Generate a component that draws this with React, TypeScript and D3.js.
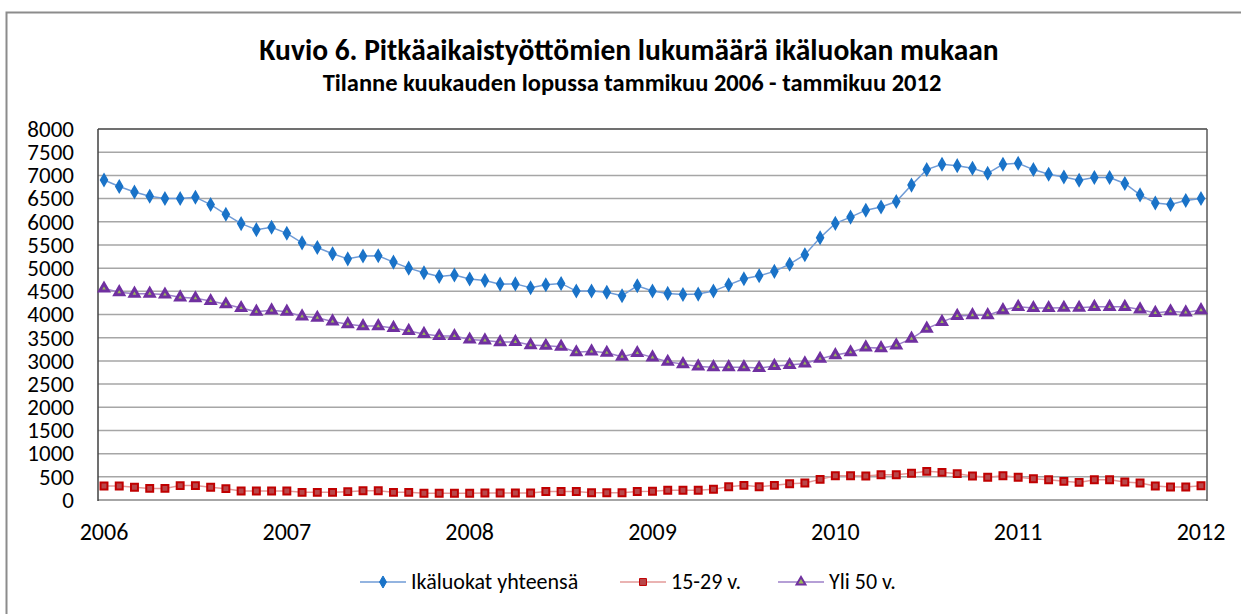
import React, { useEffect, useRef } from "react";
import * as d3 from "d3";

// monthly values, Jan 2006 .. Jan 2012 (73 months)
const totalValues = [
  6900, 6760, 6640, 6550, 6500, 6500, 6530, 6370, 6160, 5960, 5830, 5880,
  5750, 5545, 5445, 5310, 5200, 5260, 5265, 5130, 5000, 4900, 4820, 4850,
  4765, 4735, 4655, 4660, 4575, 4640, 4670, 4505, 4505, 4480, 4405, 4620,
  4505, 4455, 4430, 4440, 4505, 4640, 4770, 4835, 4930, 5085, 5290, 5655,
  5965, 6100, 6250, 6320, 6435, 6790, 7125, 7240, 7210, 7155, 7045, 7240,
  7260, 7125, 7025, 6965, 6895, 6955, 6955, 6825, 6580, 6405, 6370, 6460,
  6500,
];
const youngValues = [
  300, 300, 275, 250, 250, 310, 310, 275, 245, 195, 195, 195,
  195, 165, 165, 165, 180, 200, 200, 165, 165, 145, 145, 145,
  145, 150, 150, 150, 150, 185, 185, 185, 158, 158, 158, 185,
  187, 209, 209, 209, 230, 287, 316, 287, 316, 352, 366, 445,
  524, 524, 517, 546, 546, 575, 618, 596, 568, 517, 489, 524,
  489, 460, 438, 402, 380, 438, 438, 388, 366, 302, 280, 280,
  309,
];
const olderValues = [
  4560, 4480, 4450, 4450, 4430, 4370, 4350, 4290, 4220, 4140, 4060, 4090,
  4060, 3960, 3930, 3850, 3790, 3750, 3750, 3710, 3645, 3580, 3535, 3535,
  3460, 3440, 3405, 3410, 3340, 3325, 3305, 3185, 3205, 3175, 3090, 3170,
  3075, 2980, 2930, 2880, 2865, 2865, 2865, 2845, 2890, 2910, 2945, 3045,
  3125, 3185, 3290, 3275, 3335, 3480, 3695, 3840, 3970, 3985, 3985, 4095,
  4165, 4140, 4140, 4145, 4145, 4165, 4165, 4165, 4110, 4035, 4070, 4045,
  4095,
];
const yearLabels = ["2006", "2007", "2008", "2009", "2010", "2011", "2012"];
const yTicks = [0, 500, 1000, 1500, 2000, 2500, 3000, 3500, 4000, 4500, 5000, 5500, 6000, 6500, 7000, 7500, 8000];
const seriesNames = ["Ikäluokat yhteensä", "15-29 v.", "Yli 50 v."];

const FONT = "Calibri, Carlito, Lato, sans-serif";

export default function App() {
  const ref = useRef<SVGSVGElement>(null);

  useEffect(() => {
    const width = 1241,
      height = 614;
    const svg = d3.select(ref.current);
    svg.selectAll("*").remove();

    // outer chart border
    svg.append("rect")
      .attr("x", 6.5).attr("y", 12.5)
      .attr("width", width).attr("height", height)
      .attr("fill", "white")
      .attr("stroke", "#8c8c8c").attr("stroke-width", 2);

    // titles
    svg.append("text")
      .attr("x", 629).attr("y", 60)
      .attr("text-anchor", "middle")
      .style("font-family", FONT).style("font-weight", "bold").style("font-size", "29.5px")
      .text("Kuvio 6. Pitkäaikaistyöttömien lukumäärä ikäluokan mukaan");
    svg.append("text")
      .attr("x", 632).attr("y", 91)
      .attr("text-anchor", "middle")
      .style("font-family", FONT).style("font-weight", "bold").style("font-size", "24.5px")
      .text("Tilanne kuukauden lopussa tammikuu 2006 - tammikuu 2012");

    const n = totalValues.length;
    const x = d3.scaleLinear().domain([0, n - 1]).range([104, 1201]);
    const y = d3.scaleLinear().domain([0, 8000]).range([500, 129]);

    // gridlines
    svg.append("g")
      .selectAll("line")
      .data(yTicks.slice(1, -1))
      .join("line")
      .attr("x1", 98).attr("x2", 1207)
      .attr("y1", (d) => y(d)).attr("y2", (d) => y(d))
      .attr("stroke", "#a6a6a6").attr("stroke-width", 1.5);

    // plot frame
    svg.append("line").attr("x1", 98).attr("x2", 1207).attr("y1", y(8000)).attr("y2", y(8000))
      .attr("stroke", "#404040").attr("stroke-width", 1.5);
    svg.append("line").attr("x1", 98).attr("x2", 1207).attr("y1", y(0)).attr("y2", y(0))
      .attr("stroke", "#a6a6a6").attr("stroke-width", 2);
    svg.append("line").attr("x1", 98).attr("x2", 98).attr("y1", y(8000)).attr("y2", y(0) + 1)
      .attr("stroke", "#404040").attr("stroke-width", 1.5);
    svg.append("line").attr("x1", 1207).attr("x2", 1207).attr("y1", y(8000)).attr("y2", y(0) + 1)
      .attr("stroke", "#5a5a5a").attr("stroke-width", 1.5);

    // y labels
    svg.append("g")
      .selectAll("text")
      .data(yTicks)
      .join("text")
      .attr("x", 74).attr("y", (d) => y(d))
      .attr("dy", "0.34em")
      .attr("text-anchor", "end")
      .style("font-family", FONT).style("font-size", "23px").attr("fill", "#000")
      .text((d) => d);

    // x labels
    svg.append("g")
      .selectAll("text")
      .data(yearLabels)
      .join("text")
      .attr("x", (d, i) => x(i * 12)).attr("y", 540)
      .attr("text-anchor", "middle")
      .style("font-family", FONT).style("font-size", "24px")
      .text((d) => d);

    const series = [
      { name: seriesNames[0], values: totalValues, line: "#6f9bd6", fill: "#1a73c8", stroke: "#1a73c8", shape: d3.symbolDiamond, size: 42, sw: 1.5 },
      { name: seriesNames[1], values: youngValues, line: "#e39a99", fill: "#b9474a", stroke: "#c00000", shape: d3.symbolSquare, size: 48, sw: 2 },
      { name: seriesNames[2], values: olderValues, line: "#9c7fc8", fill: "#9bbb59", stroke: "#7030a0", shape: d3.symbolTriangle, size: 34, sw: 3 },
    ];

    const lineGen = d3.line<number>()
      .x((d, i) => x(i))
      .y((d) => y(d));

    series.forEach((s) => {
      const g = svg.append("g");
      g.append("path")
        .attr("d", lineGen(s.values))
        .attr("fill", "none")
        .attr("stroke", s.line)
        .attr("stroke-width", 1.5);
      g.selectAll("path.m")
        .data(s.values)
        .join("path")
        .attr("class", "m")
        .attr("transform", (d, i) => `translate(${x(i)},${y(d)})`)
        .attr("d", d3.symbol().type(s.shape).size(s.size)())
        .attr("fill", s.fill)
        .attr("stroke", s.stroke)
        .attr("stroke-width", s.sw);
    });

    // legend
    const legendX = [360, 620, 778];
    const legendY = 582;
    series.forEach((s, i) => {
      const g = svg.append("g").attr("transform", `translate(${legendX[i]},${legendY})`);
      g.append("line").attr("x1", 0).attr("x2", 46).attr("y1", 0).attr("y2", 0)
        .attr("stroke", s.line).attr("stroke-width", 1.5);
      g.append("path")
        .attr("transform", "translate(23,0)")
        .attr("d", d3.symbol().type(s.shape).size(s.size)())
        .attr("fill", s.fill)
        .attr("stroke", s.stroke)
        .attr("stroke-width", i === 0 ? 1 : s.sw - 1);
      g.append("text")
        .attr("x", 51).attr("y", 0).attr("dy", "0.34em")
        .style("font-family", FONT).style("font-size", "22px")
        .text(s.name);
    });
  }, []);

  return (
    <svg
      ref={ref}
      width={1241}
      height={614}
      style={{ position: "absolute", left: 0, top: 0, background: "white" }}
    />
  );
}
